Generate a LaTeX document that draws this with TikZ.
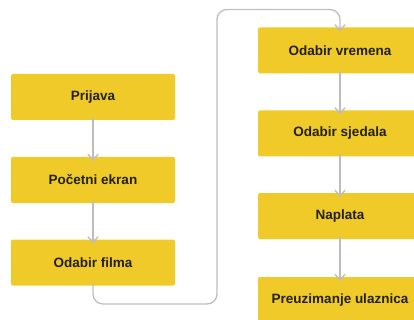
\documentclass[tikz,border=0pt]{standalone}
\usepackage{fontspec}
\setmainfont{Liberation Sans}
\definecolor{boxy}{HTML}{F0CA28}
\definecolor{txt}{HTML}{222014}
\definecolor{conn}{HTML}{BDBDBD}
\begin{document}
\begin{tikzpicture}[x=1pt,y=-1pt,
  box/.style={fill=boxy,rounded corners=2pt,minimum width=164pt,minimum height=46pt,inner sep=0pt,
    font=\fontsize{13.5}{15}\selectfont\bfseries,text=txt},
  link/.style={draw=conn,line width=1.3pt,line cap=round,line join=round}]
\useasboundingbox (0,0) rectangle (414,320);
\clip (0,0) rectangle (414,320);
\node[box] (p) at (93,97) {Prijava};
\node[box] (e) at (93,180) {Početni ekran};
\node[box] (f) at (93,262.5) {Odabir filma};
\node[box] (v) at (340,50.5) {Odabir vremena};
\node[box] (s) at (340,133.5) {Odabir sjedala};
\node[box] (n) at (340,216) {Naplata};
\node[box] (u) at (340,300) {Preuzimanje ulaznica};
\foreach \a/\b in {p/e,e/f,v/s,s/n,n/u}{
  \draw[link] ([yshift=2pt]\a.south) -- ([yshift=-3pt]\b.north);
  \draw[link] ([yshift=-3pt]\b.north) +(-5,-5.5) -- +(0,0) -- +(5,-5.5);
}
\coordinate (a1) at (217,304);
\coordinate (a2) at (217,9.5);
\draw[link,rounded corners=10pt] ([yshift=2pt]f.south) |- (a1) -- (a2) -| ([yshift=-3pt]v.north);
\draw[link] ([yshift=-3pt]v.north) +(-5,-5.5) -- +(0,0) -- +(5,-5.5);
\end{tikzpicture}
\end{document}
